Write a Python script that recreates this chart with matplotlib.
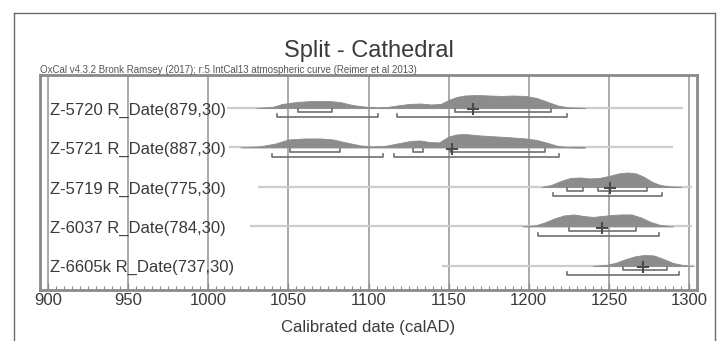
import matplotlib
matplotlib.use("Agg")
import matplotlib.pyplot as plt
from matplotlib.lines import Line2D
from matplotlib.transforms import blended_transform_factory
import numpy as np

plt.rcParams['font.family'] = ['Liberation Sans', 'DejaVu Sans']

# ---------------- data ----------------
labels = ["Z-5720 R_Date(879,30)", "Z-5721 R_Date(887,30)", "Z-5719 R_Date(775,30)",
          "Z-6037 R_Date(784,30)", "Z-6605k R_Date(737,30)"]

# calibrated probability distributions (year, relative probability)
dens_years = [
    [1030, 1040, 1046, 1055, 1065, 1075, 1082, 1090, 1097, 1105, 1112, 1118, 1125, 1132,
     1139, 1145, 1150, 1155, 1160, 1168, 1175, 1183, 1190, 1198, 1205, 1212, 1218, 1225, 1235],
    [1020, 1032, 1042, 1050, 1060, 1070, 1078, 1086, 1095, 1102, 1110, 1118, 1126, 1132,
     1138, 1144, 1150, 1155, 1160, 1170, 1180, 1190, 1198, 1205, 1212, 1218, 1225, 1235],
    [1208, 1214, 1220, 1226, 1232, 1238, 1244, 1250, 1256, 1262, 1267, 1272, 1277, 1282, 1288, 1295],
    [1196, 1204, 1210, 1216, 1222, 1228, 1234, 1240, 1246, 1252, 1258, 1264, 1270, 1276, 1282, 1290],
    [1240, 1248, 1254, 1260, 1266, 1272, 1278, 1284, 1290, 1296, 1302],
]
dens_vals = [
    [0, 1, 4, 6, 7, 7, 6, 3, 1.5, 0.5, 1, 2.5, 4, 4.5,
     3.5, 4, 8, 11, 12.5, 13, 12.5, 12, 12.5, 12, 10, 6, 2.5, 0.5, 0],
    [0, 1, 4, 8, 9, 9, 8, 5, 2, 1, 1.5, 4, 6.5, 7,
     5.5, 5, 11, 13, 13.5, 12, 11, 10, 9, 7.5, 4.5, 1.5, 0.3, 0],
    [0, 2, 6, 9, 9.5, 8.5, 9, 11, 13.5, 14.5, 13.5, 10, 5, 2, 0.5, 0],
    [0, 1, 4, 8, 11, 12, 10.5, 9.5, 10.5, 11.5, 12, 12, 9, 4.5, 1.5, 0],
    [0, 1, 3, 6.5, 9.5, 11, 10.5, 7, 3, 1, 0],
]
# 68.2% and 95.4% highest posterior density ranges
range68 = [
    [(1056, 1077), (1154, 1214)],
    [(1051, 1082), (1128, 1134), (1151, 1210)],
    [(1224, 1234), (1243, 1274)],
    [(1225, 1267)],
    [(1259, 1286)],
]
range95 = [
    [(1043, 1106), (1118, 1224)],
    [(1040, 1109), (1116, 1219)],
    [(1215, 1283)],
    [(1206, 1281)],
    [(1224, 1294)],
]
mean_date = [1165, 1152, 1251, 1246, 1271]
baseline_span = [(1012, 1296), (1013, 1290), (1031, 1302), (1026, 1302), (1146, 1304)]

xticks = [900, 950, 1000, 1050, 1100, 1150, 1200, 1250, 1300]

# ---------------- figure ----------------
W, H = 717, 341
fig = plt.figure(figsize=(W / 100, H / 100), dpi=100)
fig.patch.set_facecolor('white')

# outer border
bc = '#6a6a6a'
fig.add_artist(Line2D([13.5 / W, 13.5 / W], [0, 1 - 12.5 / H], transform=fig.transFigure, color=bc, lw=1.0))
fig.add_artist(Line2D([13.5 / W, 714.5 / W], [1 - 12.5 / H, 1 - 12.5 / H], transform=fig.transFigure, color=bc, lw=1.0))
fig.add_artist(Line2D([714.5 / W, 714.5 / W], [0, 1 - 12.5 / H], transform=fig.transFigure, color=bc, lw=1.0))

ax = fig.add_axes([40 / W, 1 - 290 / H, 657 / W, 215 / H])
row_px = 39.5
px = 1.0 / row_px
ax.set_xlim(895, 1305)
ax.set_ylim(4.61, -0.835)

for x in xticks:
    ax.axvline(x, color='#a4a4a4', lw=1.3, zorder=1)

dens_color = '#8c8c8c'
br_color = '#6e6e6e'
for i in range(len(labels)):
    b0, b1 = baseline_span[i]
    ax.plot([b0, b1], [i, i], color='#cdcdcd', lw=1.6, zorder=2, solid_capstyle='butt')
    yrs = np.array(dens_years[i], float)
    v = np.array(dens_vals[i], float)
    ax.fill_between(yrs, i, i - v * px, color=dens_color, lw=0.6, edgecolor=dens_color, zorder=3)
    for (a, b) in range68[i]:
        y = i + 4.5 * px
        ax.plot([a, a, b, b], [y - 3 * px, y, y, y - 3 * px], color=br_color, lw=1.2, zorder=4)
    for (a, b) in range95[i]:
        y = i + 9.5 * px
        ax.plot([a, a, b, b], [y - 3 * px, y, y, y - 3 * px], color=br_color, lw=1.2, zorder=4)
    ax.plot([mean_date[i]], [i + 1.5 * px], marker='+', ms=8, mew=1.5, color='#4a4a4a', zorder=5)

trans = blended_transform_factory(ax.transAxes, ax.transData)
for i, lab in enumerate(labels):
    ax.text(10 / 657, i + 2 * px, lab, transform=trans, ha='left', va='center',
            fontsize=12, color='#3a3a3a', zorder=6)

for s in ax.spines.values():
    s.set_color('#8a8a8a')
    s.set_linewidth(2.0)

ax.set_yticks([])
ax.set_xticks(xticks)
ax.set_xticklabels([str(t) for t in xticks])
ax.set_xticks(np.arange(895, 1306, 5), minor=True)
ax.tick_params(axis='x', which='major', direction='in', length=5, width=1.0, color='#8a8a8a',
               labelsize=12, labelcolor='#3a3a3a', pad=2)
ax.tick_params(axis='x', which='minor', direction='in', length=3, width=0.8, color='#8a8a8a')
ax.set_xlabel("Calibrated date (calAD)", fontsize=12, color='#3a3a3a', labelpad=9)

fig.text(369 / W, 1 - 51 / H, "Split - Cathedral", ha='center', va='center', fontsize=17, color='#3a3a3a')
fig.text(40 / W, 1 - 70 / H,
         "OxCal v4.3.2 Bronk Ramsey (2017); r:5 IntCal13 atmospheric curve (Reimer et al 2013)",
         ha='left', va='center', fontsize=7, color='#555555')

fig.savefig("out.png", dpi=100)
